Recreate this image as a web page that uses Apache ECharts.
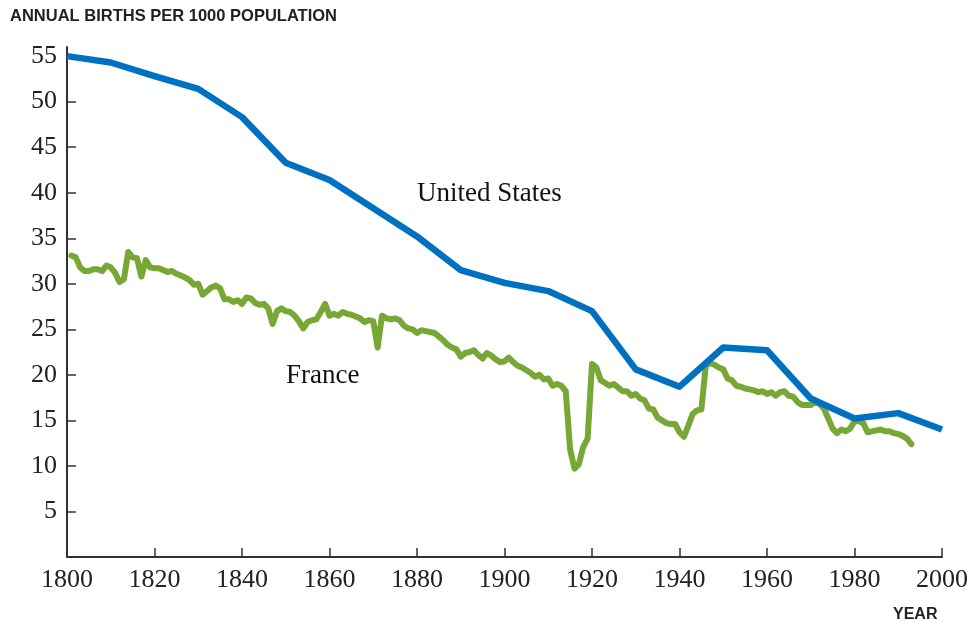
<!DOCTYPE html>
<html>
<head>
<meta charset="utf-8">
<script src="https://cdn.jsdelivr.net/npm/echarts@6/dist/echarts.min.js"></script>
<style>html,body{margin:0;padding:0;background:#fff}#c{width:971px;height:623px}</style>
</head>
<body>
<div id="c"></div>
<script>
const usYears = [1800,1810,1820,1830,1840,1850,1860,1870,1880,1890,1900,1910,1920,1930,1940,1950,1960,1970,1980,1990,2000];
const usValues = [55.0,54.3,52.8,51.4,48.3,43.3,41.4,38.3,35.2,31.5,30.1,29.2,27.0,20.6,18.7,23.0,22.7,17.4,15.2,15.8,14.0];

const frFirstYear = 1801;
const frValues = [
33.1,32.9,31.8,31.4,31.4,31.6,31.6,31.4,32.0,31.8,
31.2,30.2,30.5,33.5,32.9,32.8,30.8,32.6,31.8,31.7,
31.7,31.5,31.3,31.4,31.1,30.9,30.7,30.4,29.9,30.0,
28.8,29.2,29.6,29.8,29.5,28.3,28.3,28.0,28.2,27.8,
28.5,28.4,27.9,27.7,27.8,27.3,25.6,27.0,27.3,27.0,
26.9,26.5,25.9,25.1,25.8,26.0,26.1,26.9,27.8,26.5,
26.7,26.5,26.9,26.7,26.6,26.4,26.2,25.8,26.0,25.9,
23.0,26.5,26.2,26.1,26.2,26.0,25.4,25.1,25.0,24.6,
24.9,24.8,24.7,24.6,24.2,23.8,23.3,23.0,22.8,22.0,
22.4,22.5,22.7,22.2,21.8,22.4,22.1,21.7,21.4,21.5,
21.9,21.4,21.0,20.8,20.5,20.2,19.8,20.0,19.5,19.6,
18.8,19.0,18.8,18.2,11.8,9.7,10.2,12.1,13.0,21.2,
20.8,19.4,19.1,18.8,19.0,18.6,18.2,18.2,17.7,17.9,
17.4,17.2,16.3,16.2,15.3,15.0,14.7,14.6,14.6,13.7,
13.2,14.4,15.7,16.1,16.2,21.0,21.3,21.1,20.8,20.6,
19.6,19.4,18.8,18.7,18.5,18.4,18.3,18.1,18.2,17.9,
18.1,17.7,18.1,18.2,17.7,17.6,17.0,16.7,16.7,16.7,
17.0,16.8,16.3,15.2,14.1,13.6,14.0,13.8,14.1,14.9,
14.9,14.7,13.7,13.8,13.9,14.0,13.8,13.8,13.6,13.5,
13.3,13.0,12.4
];

const xTicks = [1800,1820,1840,1860,1880,1900,1920,1940,1960,1980,2000];
const yTicks = [5,10,15,20,25,30,35,40,45,50,55];

const seriesNames = ['United States','France'];
const yTitle = 'ANNUAL BIRTHS PER 1000 POPULATION';
const xTitle = 'YEAR';

const usData = usYears.map((y,i)=>[y,usValues[i]]);
const frData = frValues.map((v,i)=>[frFirstYear+i,v]);

const chart = echarts.init(document.getElementById('c'), null, {renderer:'canvas'});
const serif = '"Liberation Serif","DejaVu Serif",serif';
const sans = '"Liberation Sans",Arial,sans-serif';
chart.setOption({
  animation:false,
  backgroundColor:'#ffffff',
  title:{text:yTitle,left:5,top:3,textStyle:{fontFamily:sans,fontSize:16.5,fontWeight:'bold',color:'#222'}},
  grid:{left:67,right:29,top:47,bottom:66},
  xAxis:{type:'value',min:1800,max:2000,interval:20,
    axisLine:{show:true,lineStyle:{color:'#333',width:2}},
    axisTick:{show:true,inside:true,length:9,lineStyle:{color:'#333',width:1.5},customValues:xTicks},
    axisLabel:{fontFamily:serif,fontSize:26,color:'#222',margin:10,customValues:xTicks,formatter:v=>String(v)},
    splitLine:{show:false}},
  yAxis:{type:'value',min:0,max:56,interval:5,
    axisLine:{show:true,lineStyle:{color:'#333',width:2}},
    axisTick:{show:true,inside:true,length:9,lineStyle:{color:'#333',width:1.5},customValues:yTicks},
    axisLabel:{fontFamily:serif,fontSize:26,color:'#222',margin:10,customValues:yTicks,formatter:v=>String(v)},
    splitLine:{show:false}},
  series:[
    {name:seriesNames[1],type:'line',data:frData,showSymbol:false,symbol:'none',
     lineStyle:{color:'#77A735',width:6,join:'round',cap:'round'},z:2},
    {name:seriesNames[0],type:'line',data:usData,showSymbol:false,symbol:'none',
     lineStyle:{color:'#0070C0',width:6.5,join:'round'},z:3}
  ],
  graphic:[
    {type:'text',left:417,top:180,style:{text:seriesNames[0],font:'27px '+serif,fill:'#111'}},
    {type:'text',left:286,top:362,style:{text:seriesNames[1],font:'27px '+serif,fill:'#111'}},
    {type:'text',left:893,top:607,style:{text:xTitle,font:'bold 16px '+sans,fill:'#222'}}
  ]
});
</script>
</body>
</html>
